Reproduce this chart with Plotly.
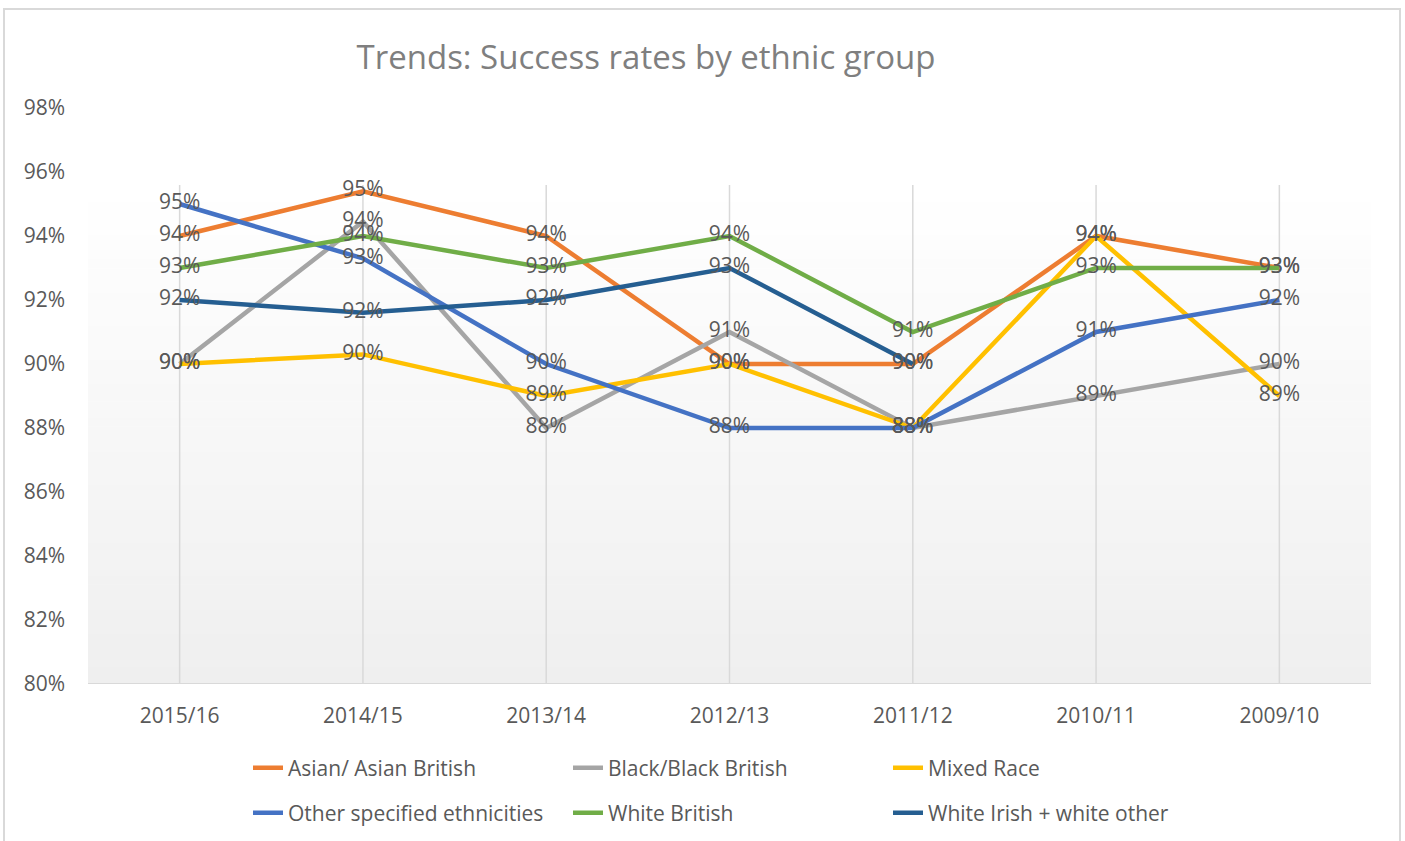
import plotly.graph_objects as go

# ---- data ----
categories = ["2015/16", "2014/15", "2013/14", "2012/13", "2011/12", "2010/11", "2009/10"]
asian = [94.0, 95.4, 94.0, 90.0, 90.0, 94.0, 93.0]
black = [90.0, 94.45, 88.0, 91.0, 88.0, 89.0, 90.0]
mixed = [90.0, 90.3, 89.0, 90.0, 88.0, 94.0, 89.0]
other = [95.0, 93.3, 90.0, 88.0, 88.0, 91.0, 92.0]
white_british = [93.0, 94.0, 93.0, 94.0, 91.0, 93.0, 93.0]
white_irish = [92.0, 91.6, 92.0, 93.0, 90.0, None, None]
y_ticks = [80, 82, 84, 86, 88, 90, 92, 94, 96, 98]
y_tick_labels = ["80%", "82%", "84%", "86%", "88%", "90%", "92%", "94%", "96%", "98%"]

series = [
    ("Asian/ Asian British", asian, "#ED7D31", "legend"),
    ("Black/Black British", black, "#A5A5A5", "legend"),
    ("Mixed Race", mixed, "#FFC000", "legend"),
    ("Other specified ethnicities", other, "#4472C4", "legend2"),
    ("White British", white_british, "#70AD47", "legend2"),
    ("White Irish + white other", white_irish, "#255E91", "legend2"),
]

FONT = "Open Sans"
TXT = "#595959"
W, H = 1405, 841
L, R, T, B = 88, 34, 108, 157
plot_h = H - T - B
y_min, y_max = 80, 98
area_top_px = 185
area_top_val = y_min + (H - B - area_top_px) / plot_h * (y_max - y_min)

fig = go.Figure()

for name, vals, color, lg in series:
    fig.add_trace(go.Scatter(
        x=categories, y=vals, mode="lines", name=name,
        line=dict(color=color, width=4.5), legend=lg,
        connectgaps=False, hoverinfo="skip",
    ))

for name, vals, color, lg in series:
    fig.add_trace(go.Scatter(
        x=categories, y=vals, mode="text",
        text=[("%d%%" % round(v)) if v is not None else "" for v in vals],
        textposition="middle center",
        textfont=dict(family=FONT, size=21, color=TXT),
        showlegend=False, hoverinfo="skip",
    ))

shapes = []
# gradient plot-area background
n = 60
for i in range(n):
    f0 = i / n
    f1 = (i + 1) / n
    y0 = area_top_val - (area_top_val - y_min) * f0
    y1 = area_top_val - (area_top_val - y_min) * f1
    t = (i + 0.5) / n
    c = int(round(255 - (255 - 239) * t))
    shapes.append(dict(type="rect", xref="paper", yref="y", x0=0, x1=1,
                       y0=y1 - 0.02, y1=y0, fillcolor="rgb(%d,%d,%d)" % (c, c, c),
                       line=dict(width=0), layer="below"))
# vertical gridlines at categories
for c in categories:
    shapes.append(dict(type="line", xref="x", yref="y", x0=c, x1=c,
                       y0=y_min, y1=area_top_val,
                       line=dict(color="#D9D9D9", width=1.5), layer="below"))
# bottom axis line
shapes.append(dict(type="line", xref="paper", yref="y", x0=0, x1=1, y0=y_min, y1=y_min,
                   line=dict(color="#D9D9D9", width=2), layer="below"))
# outer chart border
pw = W - L - R
bx0 = (4 - L) / pw
bx1 = (1400 - L) / pw
by1 = (H - B - 9) / plot_h
by0 = (H - B - 845) / plot_h
shapes.append(dict(type="rect", xref="paper", yref="paper", x0=bx0, x1=bx1, y0=by0, y1=by1,
                   line=dict(color="#D9D9D9", width=2), fillcolor="rgba(0,0,0,0)", layer="below"))

legend_common = dict(
    orientation="h", xref="container", yref="container",
    xanchor="left", yanchor="middle",
    entrywidth=275, entrywidthmode="pixels",
    font=dict(family=FONT, size=21, color=TXT),
    bgcolor="rgba(0,0,0,0)", itemclick=False, itemdoubleclick=False,
)

fig.update_layout(
    width=W, height=H,
    margin=dict(l=L, r=R, t=T, b=B, autoexpand=False),
    paper_bgcolor="white", plot_bgcolor="rgba(0,0,0,0)",
    font=dict(family=FONT, color=TXT),
    title=dict(text="Trends: Success rates by ethnic group",
               font=dict(family=FONT, size=33, color="#7F7F7F"),
               xref="container", yref="container",
               x=646 / W, xanchor="center", y=1 - 57 / H, yanchor="middle"),
    xaxis=dict(type="category", categoryorder="array", categoryarray=categories,
               range=[-0.5, len(categories) - 0.5], showgrid=False, showline=False,
               zeroline=False, ticks="", tickfont=dict(family=FONT, size=21, color=TXT),
               ticklabelstandoff=17, fixedrange=True),
    yaxis=dict(range=[y_min, y_max], tickvals=y_ticks, ticktext=y_tick_labels,
               showgrid=False, zeroline=False, showline=False, ticks="",
               tickfont=dict(family=FONT, size=21, color=TXT),
               ticklabelstandoff=22, fixedrange=True),
    shapes=shapes,
    legend=dict(legend_common, x=248 / W, y=1 - 768 / H),
    legend2=dict(legend_common, x=248 / W, y=1 - 813 / H),
    showlegend=True,
)

fig.write_html("out.html",
               config={"displayModeBar": False},
               post_script="document.body.style.margin='0';document.body.style.padding='0';")
